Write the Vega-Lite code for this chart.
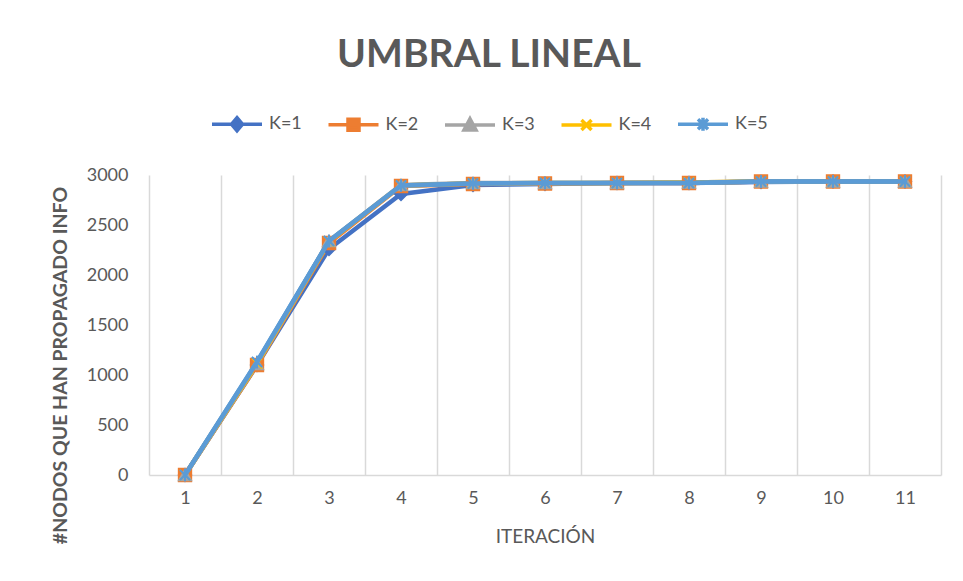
{
  "$schema": "https://vega.github.io/schema/vega-lite/v6.json",
  "width": 792,
  "height": 300,
  "autosize": "none",
  "padding": {"left": 149, "top": 175, "right": 22, "bottom": 106},
  "background": "white",
  "config": {
    "view": {"stroke": null},
    "font": "Lato",
    "text": {"font": "Lato"}
  },
  "title": {
    "text": "UMBRAL LINEAL",
    "font": "Lato",
    "fontSize": 39,
    "fontWeight": "bold",
    "color": "#595959",
    "anchor": "middle",
    "frame": "group",
    "baseline": "alphabetic",
    "dx": -56,
    "offset": -9
  },
  "data": {
    "values": [
      {"iter": 1, "K": "K=1", "nodos": 0},
      {"iter": 2, "K": "K=1", "nodos": 1100},
      {"iter": 3, "K": "K=1", "nodos": 2260},
      {"iter": 4, "K": "K=1", "nodos": 2810},
      {"iter": 5, "K": "K=1", "nodos": 2900},
      {"iter": 6, "K": "K=1", "nodos": 2910},
      {"iter": 7, "K": "K=1", "nodos": 2920},
      {"iter": 8, "K": "K=1", "nodos": 2920},
      {"iter": 9, "K": "K=1", "nodos": 2930},
      {"iter": 10, "K": "K=1", "nodos": 2935},
      {"iter": 11, "K": "K=1", "nodos": 2935},
      {"iter": 1, "K": "K=2", "nodos": 0},
      {"iter": 2, "K": "K=2", "nodos": 1100},
      {"iter": 3, "K": "K=2", "nodos": 2320},
      {"iter": 4, "K": "K=2", "nodos": 2890},
      {"iter": 5, "K": "K=2", "nodos": 2910},
      {"iter": 6, "K": "K=2", "nodos": 2915},
      {"iter": 7, "K": "K=2", "nodos": 2920},
      {"iter": 8, "K": "K=2", "nodos": 2920},
      {"iter": 9, "K": "K=2", "nodos": 2935},
      {"iter": 10, "K": "K=2", "nodos": 2935},
      {"iter": 11, "K": "K=2", "nodos": 2935},
      {"iter": 1, "K": "K=3", "nodos": 0},
      {"iter": 2, "K": "K=3", "nodos": 1110},
      {"iter": 3, "K": "K=3", "nodos": 2340},
      {"iter": 4, "K": "K=3", "nodos": 2900},
      {"iter": 5, "K": "K=3", "nodos": 2920},
      {"iter": 6, "K": "K=3", "nodos": 2920},
      {"iter": 7, "K": "K=3", "nodos": 2920},
      {"iter": 8, "K": "K=3", "nodos": 2925},
      {"iter": 9, "K": "K=3", "nodos": 2935},
      {"iter": 10, "K": "K=3", "nodos": 2935},
      {"iter": 11, "K": "K=3", "nodos": 2935},
      {"iter": 1, "K": "K=4", "nodos": 0},
      {"iter": 2, "K": "K=4", "nodos": 1115},
      {"iter": 3, "K": "K=4", "nodos": 2335},
      {"iter": 4, "K": "K=4", "nodos": 2895},
      {"iter": 5, "K": "K=4", "nodos": 2915},
      {"iter": 6, "K": "K=4", "nodos": 2920},
      {"iter": 7, "K": "K=4", "nodos": 2920},
      {"iter": 8, "K": "K=4", "nodos": 2925},
      {"iter": 9, "K": "K=4", "nodos": 2935},
      {"iter": 10, "K": "K=4", "nodos": 2935},
      {"iter": 11, "K": "K=4", "nodos": 2935},
      {"iter": 1, "K": "K=5", "nodos": 0},
      {"iter": 2, "K": "K=5", "nodos": 1130},
      {"iter": 3, "K": "K=5", "nodos": 2340},
      {"iter": 4, "K": "K=5", "nodos": 2895},
      {"iter": 5, "K": "K=5", "nodos": 2915},
      {"iter": 6, "K": "K=5", "nodos": 2920},
      {"iter": 7, "K": "K=5", "nodos": 2920},
      {"iter": 8, "K": "K=5", "nodos": 2920},
      {"iter": 9, "K": "K=5", "nodos": 2935},
      {"iter": 10, "K": "K=5", "nodos": 2935},
      {"iter": 11, "K": "K=5", "nodos": 2935}
    ]
  },
  "encoding": {
    "x": {
      "field": "iter",
      "type": "quantitative",
      "scale": {"domain": [0.5, 11.5], "nice": false, "zero": false},
      "axis": {
        "title": "ITERACIÓN",
        "values": [0.5, 1, 1.5, 2, 2.5, 3, 3.5, 4, 4.5, 5, 5.5, 6, 6.5, 7, 7.5, 8, 8.5, 9, 9.5, 10, 10.5, 11, 11.5],
        "labelExpr": "datum.value % 1 == 0 ? format(datum.value, 'd') : ''",
        "grid": true,
        "gridColor": "#D9D9D9",
        "gridWidth": 1.5,
        "gridOpacity": {"condition": {"test": "datum.value % 1 != 0", "value": 1}, "value": 0},
        "ticks": false,
        "tickSize": 0,
        "domain": true,
        "domainColor": "#D9D9D9",
        "domainWidth": 1.5,
        "labelFont": "Lato",
        "labelFontSize": 18,
        "labelColor": "#595959",
        "labelPadding": 14,
        "labelFlush": false,
        "labelOverlap": false,
        "titleFont": "Lato",
        "titleFontSize": 19,
        "titleFontWeight": "normal",
        "titleColor": "#595959",
        "titlePadding": 20
      }
    },
    "y": {
      "field": "nodos",
      "type": "quantitative",
      "scale": {"domain": [0, 3000], "nice": false},
      "axis": {
        "title": "#NODOS QUE HAN PROPAGADO INFO",
        "values": [0, 500, 1000, 1500, 2000, 2500, 3000],
        "format": "d",
        "grid": false,
        "domain": false,
        "ticks": false,
        "tickSize": 0,
        "labelFont": "Lato",
        "labelFontSize": 18,
        "labelColor": "#595959",
        "labelPadding": 21,
        "titleFont": "Lato",
        "titleFontSize": 19.5,
        "titleFontWeight": "bold",
        "titleColor": "#595959",
        "titleAngle": -90,
        "titleAlign": "center",
        "titleBaseline": "middle",
        "titleX": -89,
        "titleY": 190
      }
    },
    "color": {
      "field": "K",
      "type": "nominal",
      "scale": {
        "domain": ["K=1", "K=2", "K=3", "K=4", "K=5"],
        "range": ["#4472C4", "#ED7D31", "#A5A5A5", "#FFC000", "#5B9BD5"]
      },
      "legend": {
        "title": null,
        "orient": "none",
        "direction": "horizontal",
        "legendX": 61,
        "legendY": -78,
        "symbolSize": 2500,
        "labelOffset": 5,
        "columnPadding": 19.5,
        "labelFont": "Lato",
        "labelFontSize": 18,
        "labelColor": "#595959",
        "encode": {
          "symbols": {
            "update": {
              "shape": {"signal": "datum.value == 'K=1' ? 'M-1,0H1M0,-0.26L0.22,0L0,0.26L-0.22,0Z' : datum.value == 'K=2' ? 'M-1,0H1M-0.22,-0.22H0.22V0.22H-0.22Z' : datum.value == 'K=3' ? 'M-1,0H1M0,-0.25L0.24,0.2H-0.24Z' : datum.value == 'K=4' ? 'M-1,0H1M-0.2,-0.2L0.2,0.2M-0.2,0.2L0.2,-0.2' : 'M-1,0H1M-0.2,-0.2L0.2,0.2M-0.2,0.2L0.2,-0.2M0,-0.26V0.26'"},
              "fill": {"scale": "color", "field": "value"},
              "stroke": {"scale": "color", "field": "value"},
              "strokeWidth": {"value": 3.5},
              "size": {"value": 2500},
              "opacity": {"value": 1},
              "fillOpacity": {"value": 1},
              "strokeOpacity": {"value": 1}
            }
          }
        }
      }
    }
  },
  "layer": [
    {
      "mark": {"type": "line", "strokeWidth": 4.5, "strokeJoin": "round", "strokeCap": "round"}
    },
    {
      "mark": {"type": "point", "filled": true, "size": 165, "strokeWidth": 1.5, "opacity": 1},
      "encoding": {
        "shape": {
          "condition": [
            {"test": "datum.K == 'K=1'", "value": "diamond"},
            {"test": "datum.K == 'K=2'", "value": "square"},
            {"test": "datum.K == 'K=3'", "value": "triangle-up"},
            {"test": "datum.K == 'K=4'", "value": "M-0.8,-0.8L0.8,0.8M-0.8,0.8L0.8,-0.8"}
          ],
          "value": "M-0.8,-0.8L0.8,0.8M-0.8,0.8L0.8,-0.8M0,-1V1"
        },
        "stroke": {
          "field": "K",
          "type": "nominal",
          "scale": {
            "domain": ["K=1", "K=2", "K=3", "K=4", "K=5"],
            "range": ["#4472C4", "#ED7D31", "#A5A5A5", "#FFC000", "#5B9BD5"]
          },
          "legend": null
        }
      }
    },
    {
      "transform": [{"filter": "datum.K == 'K=5'"}],
      "mark": {"type": "line", "strokeWidth": 4.5, "strokeJoin": "round", "strokeCap": "round"}
    },
    {
      "transform": [{"filter": "datum.K == 'K=5'"}],
      "mark": {"type": "point", "filled": false, "size": 150, "strokeWidth": 2, "opacity": 1, "shape": "M-0.8,-0.8L0.8,0.8M-0.8,0.8L0.8,-0.8M0,-1V1"}
    }
  ]
}
